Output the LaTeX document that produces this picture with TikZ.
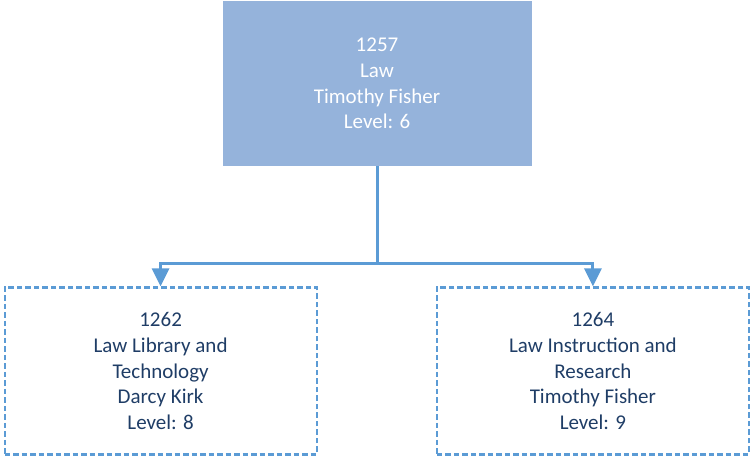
\documentclass[tikz,border=0pt]{standalone}
\usepackage{fontspec}
\setmainfont{Carlito}
\usetikzlibrary{arrows.meta}
\definecolor{topfill}{HTML}{95B3DB}
\definecolor{linec}{HTML}{5B9BD5}
\definecolor{darktext}{HTML}{1F3D66}
\begin{document}
\begin{tikzpicture}[x=1pt,y=1pt,
  txt/.style={align=center, font=\fontsize{21}{25.6}\selectfont, inner sep=0pt},
  topbox/.style={txt, fill=topfill, draw=none, text=white, minimum width=309pt, minimum height=165pt},
  childbox/.style={txt, draw=linec, line width=2.2pt, dash pattern=on 5.5pt off 3pt, text=darktext, minimum width=312pt, minimum height=167pt},
  conn/.style={draw=linec, line width=3pt, -{Triangle[width=17pt,length=18pt]}}
]
\useasboundingbox (0,0) rectangle (751,457);
\node[topbox] (top) at (377,373.5) {1257\\Law\\Timothy Fisher\\Level: 6};
\node[childbox] (left) at (160.6,86) {1262\\Law Library and\\Technology\\Darcy Kirk\\Level: 8};
\node[childbox] (right) at (592.9,86) {1264\\Law Instruction and\\Research\\ Timothy Fisher\\Level: 9};
\coordinate (j) at (377,193.7);
\draw[conn] (top.south) -- (j) -| (left.north);
\draw[conn] (j) -| (right.north);
\end{tikzpicture}
\end{document}
